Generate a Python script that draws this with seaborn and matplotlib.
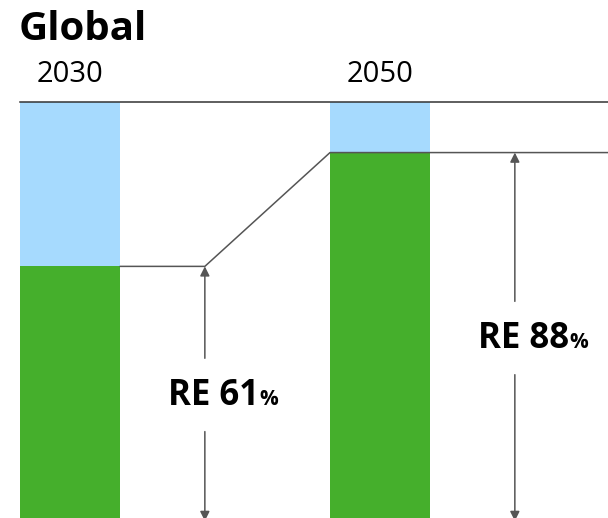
import matplotlib
matplotlib.use("Agg")
import matplotlib.pyplot as plt
import seaborn as sns
import pandas as pd

# Data
years = ["2030", "2050"]
re_share = [61, 88]          # renewable share, %
total = [100, 100]           # full bar height, %
title = "Global"

sns.set_style("white")
plt.rcParams["font.family"] = ["Open Sans", "DejaVu Sans"]

GREEN = "#45AF2C"
BLUE = "#A6DAFE"
LINE = "#555555"

W, H = 608, 518
fig = plt.figure(figsize=(W / 100, H / 100), dpi=100)
ax_top_px = 102
ax = fig.add_axes([20 / W, 0, 1 - 20 / W, (H - ax_top_px) / H])

df = pd.DataFrame({"year": years, "re": re_share, "total": total})
bw = 100 / 310
sns.barplot(data=df, x="year", y="total", color=BLUE, width=bw, saturation=1,
            linewidth=0, ax=ax)
sns.barplot(data=df, x="year", y="re", color=GREEN, width=bw, saturation=1,
            linewidth=0, ax=ax)

xr = 1.7355
ax.set_xlim(-bw / 2, xr)
ax.set_ylim(1.3, 100)

# connecting line
arrow_dx = 0.435
xs = [bw / 2, arrow_dx, 1 - bw / 2, xr]
ys = [re_share[0], re_share[0], re_share[1], re_share[1]]
ax.plot(xs, ys, color=LINE, lw=1.1, clip_on=False, zorder=3)

half_gap = 8.7
for i, v in enumerate(re_share):
    x = i + arrow_dx
    mid = v / 2
    ax.annotate("", xy=(x, v), xytext=(x, mid + half_gap),
                arrowprops=dict(arrowstyle="-|>", color=LINE, lw=1.1,
                                mutation_scale=14, shrinkA=0, shrinkB=0,
                                facecolor="black", edgecolor="black"))
    ax.annotate("", xy=(x, 0.6), xytext=(x, mid - half_gap),
                arrowprops=dict(arrowstyle="-|>", color=LINE, lw=1.1,
                                mutation_scale=14, shrinkA=0, shrinkB=0,
                                facecolor="black", edgecolor="black"),
                annotation_clip=False)
    tx = i + 0.61
    ax.text(tx, mid - 2.4, f"RE {v}", ha="right", va="baseline",
            fontsize=25, fontweight="bold", color="black")
    ax.text(tx, mid - 2.4, "%", ha="left", va="baseline",
            fontsize=15, fontweight="bold", color="black")

ax.xaxis.tick_top()
ax.tick_params(axis="x", length=0, pad=9, labelsize=21, labelcolor="black")
ax.set_xlabel("")
ax.set_ylabel("")
ax.set_yticks([])
for s in ["left", "right", "bottom"]:
    ax.spines[s].set_visible(False)
ax.spines["top"].set_color("#333333")
ax.spines["top"].set_linewidth(1.1)

fig.text(19 / W, 1 - 40 / H, title, ha="left", va="baseline",
         fontsize=29, fontweight="bold", color="black")

fig.savefig("out.png", dpi=100)
